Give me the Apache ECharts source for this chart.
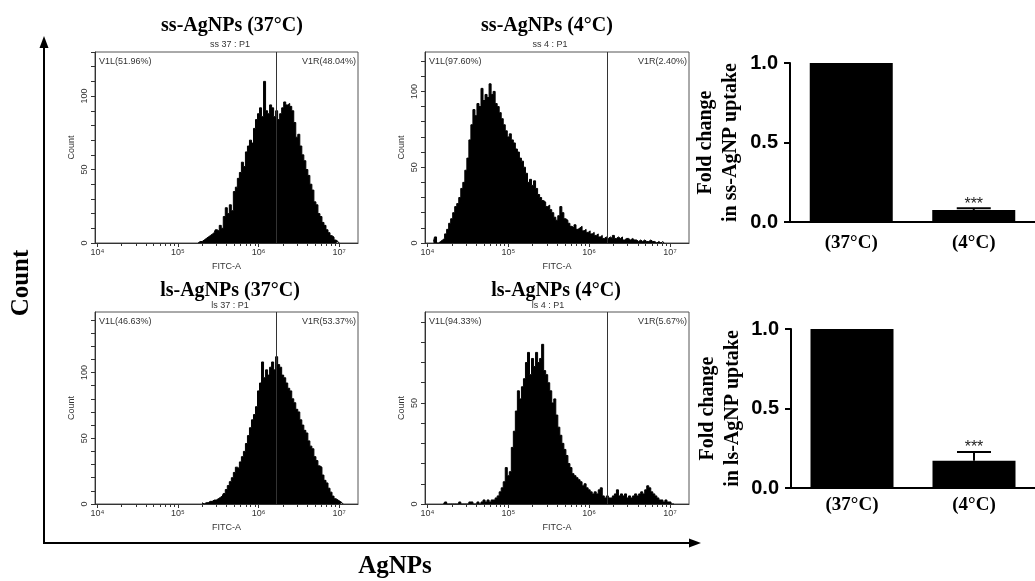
<!DOCTYPE html>
<html><head><meta charset="utf-8">
<script src="https://cdn.jsdelivr.net/npm/echarts@6/dist/echarts.min.js"></script>
<style>html,body{margin:0;padding:0;background:#fff}#c{width:1035px;height:581px}</style>
</head><body><div id="c"></div>
<script>
// ---------- data ----------
const binWidth = 0.025; // log10 units per histogram channel
const hist1Start = 5.25;
const hist1Counts = [0,1,1,2,3,4,5,6,7,9, 8,12,10,18,24,20,26,22,35,38, 44,48,55,52,62,66,70,68,78,84,
  88,92,86,110,90,88,94,92,86,90, 84,88,92,96,94,95,93,90,82,72, 74,66,60,56,50,46,40,36,28,26,
  20,18,14,12,9,7,5,4,2,1, 0];
const hist2Start = 4.075;
const hist2Counts = [1,4,0,1,2,3,6,9,13,16, 20,24,26,30,36,40,48,56,68,78, 88,84,92,90,102,94,98,96,105,98,
  100,92,90,86,82,78,74,70,72,68, 66,62,60,56,54,50,46,40,42,38, 41,36,32,30,28,27,24,25,22,20,
  17,15,18,24,20,16,15,13,11,10, 12,9,10,11,8,9,7,8,6,7, 5,6,4,5,3,4,3,4,3,5,
  3,4,3,4,2,3,3,2,3,2, 2,1,2,1,2,1,1,2,1,1, 0,1,0,1,0];
const hist3Start = 5.3;
const hist3Counts = [1,0,1,1,2,2,3,3,4,5, 6,8,11,14,17,20,24,28,27,32, 36,40,46,52,58,64,68,74,86,92,
  108,96,102,98,104,108,102,112,106,104, 98,96,92,88,86,80,77,72,70,64, 60,56,54,48,44,42,36,33,29,28,
  22,18,16,12,9,6,4,3,2,1, 0];
const hist4Start = 4.2;
const hist4Counts = [0,1,0,0,0,0,0,0,1,0, 0,0,0,1,1,0,0,1,0,1, 2,1,2,1,2,2,3,4,6,8,
  11,18,14,16,28,36,46,56,52,58, 62,70,75,64,72,68,75,70,72,79, 66,64,60,56,50,52,44,38,34,30,
  27,24,20,18,15,14,13,12,11,9, 10,8,7,6,5,6,5,7,8,4, 3,4,3,3,4,5,7,4,5,4,
  5,3,4,3,4,5,4,5,6,5, 7,9,8,6,5,4,3,2,2,1, 2,1,1,0,0];

const panelTitles = ['ss-AgNPs (37°C)', 'ss-AgNPs (4°C)', 'ls-AgNPs (37°C)', 'ls-AgNPs (4°C)'];
const panelSubtitles = ['ss 37 : P1', 'ss 4 : P1', 'ls 37 : P1', 'ls 4 : P1'];
const gateLeftLabels = ['V1L(51.96%)', 'V1L(97.60%)', 'V1L(46.63%)', 'V1L(94.33%)'];
const gateRightLabels = ['V1R(48.04%)', 'V1R(2.40%)', 'V1R(53.37%)', 'V1R(5.67%)'];
const gateLog = 6.22;
const countMax = [130, 126, 146, 95];
const countLabelValues = [0, 50, 100];
const xMajorTicks = [4, 5, 6, 7];
const xMajorLabels = ['10⁴', '10⁵', '10⁶', '10⁷'];
const xMinorMultipliers = [2, 3, 4, 5, 6, 7, 8, 9];

const barCategories = ['(37°C)', '(4°C)'];
const ssUptake = [1.0, 0.075];
const ssUptakeErr = [0, 0.011];
const lsUptake = [1.0, 0.172];
const lsUptakeErr = [0, 0.055];
const sigMarks = ['', '***'];
const ssYName = 'Fold change\nin ss-AgNP uptake';
const lsYName = 'Fold change\nin ls-AgNP uptake';
const bigYName = 'Count';
const bigXName = 'AgNPs';

// ---------- layout ----------
const histStarts = [hist1Start, hist2Start, hist3Start, hist4Start];
const histCounts = [hist1Counts, hist2Counts, hist3Counts, hist4Counts];
const histGrids = [
  {left: 95, top: 52, width: 263, height: 191},
  {left: 425, top: 52, width: 264, height: 191},
  {left: 95, top: 312, width: 263, height: 192},
  {left: 425, top: 312, width: 264, height: 192}
];
const titlePos = [[232, 26], [547, 26], [230, 291], [556, 291]];
const subtitlePos = [[230, 44.5], [550, 44.5], [230, 305.5], [548, 305.5]];
const X_MIN = 3.97, X_MAX = 7.235;
const SANS = 'Liberation Sans, Arial, sans-serif';
const SERIF = 'Liberation Serif, Times New Roman, serif';

const minorTicks = [];
xMajorTicks.forEach(n => xMinorMultipliers.forEach(m => {
  const v = n + Math.log10(m);
  if (v < X_MAX) minorTicks.push(v);
}));

const grids = [], xAxes = [], yAxes = [], series = [], graphics = [];

histGrids.forEach((g, i) => {
  grids.push(Object.assign({show: true, borderColor: '#555', borderWidth: 1, backgroundColor: 'transparent'}, g));
  xAxes.push({
    gridIndex: i, type: 'value', position: 'bottom', min: X_MIN, max: X_MAX,
    axisLine: {show: true, lineStyle: {color: '#333', width: 1}},
    axisTick: {show: true, customValues: xMajorTicks, length: 4, lineStyle: {color: '#333'}},
    axisLabel: {customValues: xMajorTicks, formatter: v => xMajorLabels[xMajorTicks.indexOf(Math.round(v))],
      fontSize: 9, color: '#333', margin: 5, fontFamily: SANS},
    splitLine: {show: false},
    name: 'FITC-A', nameLocation: 'middle', nameGap: 19,
    nameTextStyle: {fontSize: 9, color: '#333', fontFamily: SANS}
  });
  xAxes.push({
    gridIndex: i, type: 'value', position: 'bottom', min: X_MIN, max: X_MAX,
    axisLine: {show: false},
    axisTick: {show: true, customValues: minorTicks, length: 3, lineStyle: {color: '#333'}},
    axisLabel: {show: false}, splitLine: {show: false}
  });
  const yTicks = [];
  for (let v = 0; v <= countMax[i]; v += 10) yTicks.push(v);
  yAxes.push({
    gridIndex: i, type: 'value', min: 0, max: countMax[i],
    axisLine: {show: true, lineStyle: {color: '#333', width: 1}},
    axisTick: {show: true, customValues: yTicks, length: 4, lineStyle: {color: '#333'}},
    axisLabel: {customValues: countLabelValues.filter(v => v <= countMax[i]), rotate: 90,
      fontSize: 9, color: '#333', margin: 6, fontFamily: SANS},
    splitLine: {show: false},
    name: 'Count', nameLocation: 'middle', nameGap: 19, nameRotate: 90,
    nameTextStyle: {fontSize: 9, color: '#333', fontFamily: SANS}
  });
  series.push({
    type: 'line', xAxisIndex: 2 * i, yAxisIndex: i, step: 'middle', symbol: 'none',
    data: histCounts[i].map((c, k) => [histStarts[i] + k * binWidth, c]),
    lineStyle: {color: '#000', width: 1}, areaStyle: {color: '#000', opacity: 1},
    markLine: {silent: true, symbol: 'none', data: [{xAxis: gateLog}],
      lineStyle: {color: '#333', width: 1, type: 'solid'}, label: {show: false}},
    animation: false
  });
  graphics.push({type: 'text', x: titlePos[i][0], y: titlePos[i][1],
    style: {text: panelTitles[i], font: 'bold 20px ' + SERIF, fill: '#000', align: 'center', verticalAlign: 'middle'}});
  graphics.push({type: 'text', x: subtitlePos[i][0], y: subtitlePos[i][1],
    style: {text: panelSubtitles[i], font: '9px ' + SANS, fill: '#333', align: 'center', verticalAlign: 'middle'}});
  graphics.push({type: 'text', x: g.left + 4, y: g.top + 10,
    style: {text: gateLeftLabels[i], font: '9px ' + SANS, fill: '#333', align: 'left', verticalAlign: 'middle'}});
  graphics.push({type: 'text', x: g.left + g.width - 2, y: g.top + 10,
    style: {text: gateRightLabels[i], font: '9px ' + SANS, fill: '#333', align: 'right', verticalAlign: 'middle'}});
});

// bar charts
const barGrids = [{left: 790, top: 63, width: 245, height: 159}, {left: 791, top: 329, width: 244, height: 159}];
const barValues = [ssUptake, lsUptake];
const barErrs = [ssUptakeErr, lsUptakeErr];
const barNames = [ssYName, lsYName];
const barLabelMargins = [12, 8];
const barNameGaps = [47, 46];
barGrids.forEach((g, j) => {
  const gi = 4 + j;
  grids.push(Object.assign({show: false}, g));
  xAxes.push({
    gridIndex: gi, type: 'category', data: barCategories,
    axisLine: {lineStyle: {color: '#000', width: 2}},
    axisTick: {alignWithLabel: true, length: 6, lineStyle: {color: '#000', width: 2}},
    axisLabel: {fontFamily: SERIF, fontWeight: 'bold', fontSize: 19, color: '#000', margin: barLabelMargins[j]}
  });
  yAxes.push({
    gridIndex: gi, type: 'value', min: 0, max: 1, interval: 0.5,
    axisLine: {show: true, lineStyle: {color: '#000', width: 2}},
    axisTick: {show: true, length: 6, lineStyle: {color: '#000', width: 2}},
    axisLabel: {formatter: v => v.toFixed(1), fontFamily: SANS, fontWeight: 'bold', fontSize: 20, color: '#000', margin: 12},
    splitLine: {show: false},
    name: barNames[j], nameLocation: 'middle', nameRotate: 90, nameGap: barNameGaps[j],
    nameTextStyle: {fontFamily: SERIF, fontWeight: 'bold', fontSize: 20, color: '#000', lineHeight: 25}
  });
  series.push({
    type: 'bar', xAxisIndex: 8 + j, yAxisIndex: gi, data: barValues[j], barWidth: 83,
    itemStyle: {color: '#000'}, animation: false
  });
  series.push({
    type: 'custom', xAxisIndex: 8 + j, yAxisIndex: gi, animation: false, z: 5,
    data: barValues[j].map((v, k) => [k, v, barErrs[j][k]]),
    renderItem: (params, api) => {
      const k = api.value(0), v = api.value(1), e = api.value(2);
      const children = [];
      const base = api.coord([k, v]);
      const top = api.coord([k, v + e]);
      if (e > 0) {
        children.push({type: 'line', shape: {x1: base[0], y1: base[1], x2: top[0], y2: top[1]},
          style: {stroke: '#000', lineWidth: 2}});
        children.push({type: 'line', shape: {x1: top[0] - 17, y1: top[1], x2: top[0] + 17, y2: top[1]},
          style: {stroke: '#000', lineWidth: 2}});
      }
      const mark = sigMarks[params.dataIndex];
      if (mark) {
        children.push({type: 'text', x: top[0], y: top[1] - 4,
          style: {text: mark, font: '16px ' + SANS, fill: '#222', align: 'center', verticalAlign: 'middle'}});
      }
      return {type: 'group', children};
    }
  });
});

// big axes arrows and names
graphics.push({type: 'line', shape: {x1: 44, y1: 543, x2: 44, y2: 46}, style: {stroke: '#000', lineWidth: 2}});
graphics.push({type: 'polygon', shape: {points: [[44, 36], [39.5, 48], [48.5, 48]]}, style: {fill: '#000'}});
graphics.push({type: 'line', shape: {x1: 43, y1: 543, x2: 690, y2: 543}, style: {stroke: '#000', lineWidth: 2}});
graphics.push({type: 'polygon', shape: {points: [[701, 543], [689, 538.5], [689, 547.5]]}, style: {fill: '#000'}});
graphics.push({type: 'text', x: 22, y: 283, rotation: Math.PI / 2,
  style: {text: bigYName, font: 'bold 25px ' + SERIF, fill: '#000', align: 'center', verticalAlign: 'middle'}});
graphics.push({type: 'text', x: 395, y: 567,
  style: {text: bigXName, font: 'bold 25px ' + SERIF, fill: '#000', align: 'center', verticalAlign: 'middle'}});

const chart = echarts.init(document.getElementById('c'), null, {renderer: 'canvas'});
chart.setOption({
  animation: false,
  backgroundColor: '#fff',
  grid: grids, xAxis: xAxes, yAxis: yAxes, series: series,
  graphic: {elements: graphics}
});
</script></body></html>
